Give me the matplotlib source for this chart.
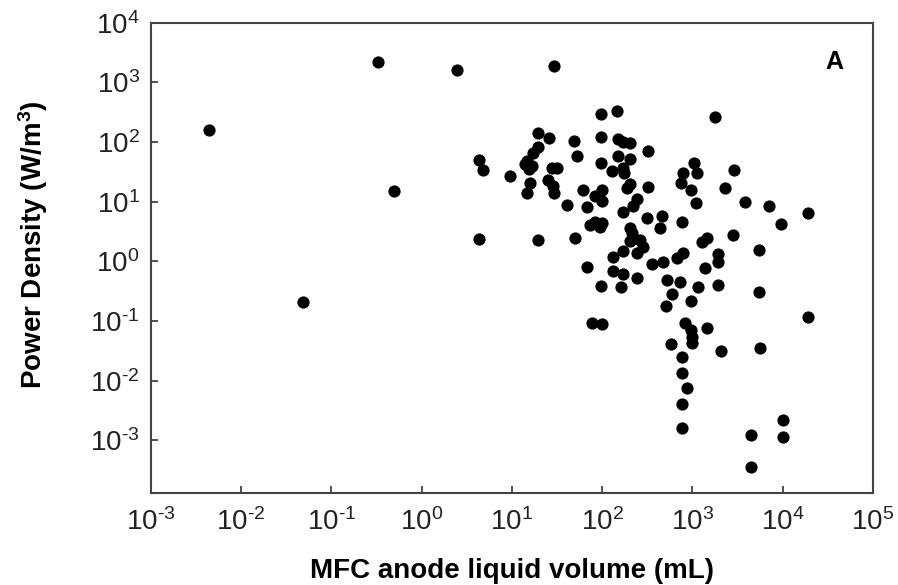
#!/usr/bin/env python3
"""Power density vs. MFC anode liquid volume (log-log scatter, panel A)."""

import math

import matplotlib

matplotlib.use("Agg")
import matplotlib.pyplot as plt
from matplotlib.ticker import FixedLocator, FuncFormatter, NullLocator

plt.rcParams["font.family"] = ["Liberation Sans", "DejaVu Sans"]
plt.rcParams["mathtext.fontset"] = "custom"
plt.rcParams["mathtext.rm"] = "Liberation Sans"
plt.rcParams["mathtext.it"] = "Liberation Sans:italic"
plt.rcParams["mathtext.bf"] = "Liberation Sans:bold"

# anode liquid volume (mL) and power density (W/m^3)
volume_ml = [
    0.0044, 0.33, 0.49, 0.048, 2.46, 29.2, 1775,
    96.8, 146, 19.4, 25.7, 48.6, 96.8, 150, 170, 203, 321,
    19.4, 17.1, 14.7, 16.7, 13.9, 15.4, 4.31, 4.77, 9.5,
    52.5, 96.8, 150, 203, 128, 170, 174, 27.7, 31.5,
    1040, 1122, 785, 746, 962, 1094, 2884, 2291, 3819, 7047, 19050, 9570,
    2812, 5458, 5458,
    15.8, 14.7, 25.1, 28.5, 29.2, 40.7, 61.2, 83.2, 99.3, 99.3, 67.8,
    188, 203, 321, 243, 219, 170, 313, 459, 436, 765,
    73.1, 83.2, 99.3, 94.4, 4.31, 19.4, 49.9,
    203, 214, 203, 262, 283, 243, 170, 132,
    1274, 1449, 1918, 1918, 1377, 785, 673, 471, 356,
    67.8, 132, 170, 243, 521, 726, 1151, 1918, 96.8, 161,
    593, 962, 508, 19050, 76.9, 99.3, 826, 962, 1449, 986, 986, 578,
    5598, 2070, 765, 765, 869, 765, 765, 10070, 4446, 10070, 4446,
]
power_wm3 = [
    159, 2210, 15, 0.21, 1620, 1890, 263,
    296, 332, 142, 117, 104, 121, 112, 100, 96, 70.6,
    82, 65.3, 48, 39.5, 42.7, 35.2, 49.8, 33.8, 26.8,
    58.2, 44.4, 58.2, 51.8, 32.6, 36.6, 30.1, 36.6, 36.6,
    44.4, 30.1, 30.1, 20.5, 15.6, 9.44, 33.8, 16.9, 9.8, 8.4, 6.41, 4.19,
    2.74, 1.53, 0.301,
    20.5, 13.9, 23, 18.2, 13.9, 8.74, 15.6, 12.4, 15.6, 10.2, 8.09,
    16.9, 19.7, 17.5, 11, 8.4, 6.66, 5.28, 5.71, 3.59, 4.52,
    4.03, 4.52, 4.35, 3.73, 2.34, 2.25, 2.44,
    3.59, 2.96, 2.17, 2.25, 1.72, 1.36, 1.47, 1.17,
    2.09, 2.44, 1.31, 0.96, 0.76, 1.36, 1.12, 0.96, 0.89,
    0.82, 0.68, 0.605, 0.518, 0.48, 0.444, 0.366, 0.395, 0.38, 0.366,
    0.279, 0.213, 0.182, 0.119, 0.0944, 0.0908, 0.0944, 0.072, 0.0778, 0.0548, 0.0435, 0.0419,
    0.0359, 0.0319, 0.0253, 0.0136, 0.0076, 0.0041, 0.00162, 0.0022, 0.00124, 0.00115, 0.00036,
]

x_ticks = [1e-3, 1e-2, 1e-1, 1e0, 1e1, 1e2, 1e3, 1e4, 1e5]
y_ticks = [1e-3, 1e-2, 1e-1, 1e0, 1e1, 1e2, 1e3, 1e4]


def pow10_label(v, _pos=None):
    # plain hyphen in the exponent, like the original artwork
    e = int(round(math.log10(v)))
    return r"$10^{\text{%d}}$" % e


fig = plt.figure(figsize=(8.98, 5.85), dpi=100)
ax = fig.add_axes([0.168, 0.157, 0.804, 0.804])

ax.plot(volume_ml, power_wm3, "o", color="black", markersize=8.8, markeredgewidth=0)

ax.set_xscale("log")
ax.set_yscale("log")
ax.set_xlim(1e-3, 1e5)
ax.set_ylim(1.3e-4, 1e4)

ax.xaxis.set_major_locator(FixedLocator(x_ticks))
ax.yaxis.set_major_locator(FixedLocator(y_ticks))
ax.xaxis.set_minor_locator(NullLocator())
ax.yaxis.set_minor_locator(NullLocator())
ax.xaxis.set_major_formatter(FuncFormatter(pow10_label))
ax.yaxis.set_major_formatter(FuncFormatter(pow10_label))

ax.tick_params(axis="both", which="major", direction="in", length=5, width=1.2,
               colors="#333333", labelcolor="#222222", labelsize=20)
ax.tick_params(axis="x", pad=11)
ax.tick_params(axis="y", pad=8)

for s in ax.spines.values():
    s.set_linewidth(1.5)
    s.set_color("#444444")

ax.set_xlabel("MFC anode liquid volume (mL)", fontsize=20, fontweight="bold")
ax.set_ylabel(r"Power Density (W/m$^\mathbf{3}$)", fontsize=20, fontweight="bold")
ax.xaxis.set_label_coords(0.5, -0.137)
ax.yaxis.set_label_coords(-0.14, 0.528)

ax.text(0.947, 0.917, "A", transform=ax.transAxes, ha="center", va="center",
        fontsize=18, fontweight="bold")

fig.savefig("out.png", dpi=100)
